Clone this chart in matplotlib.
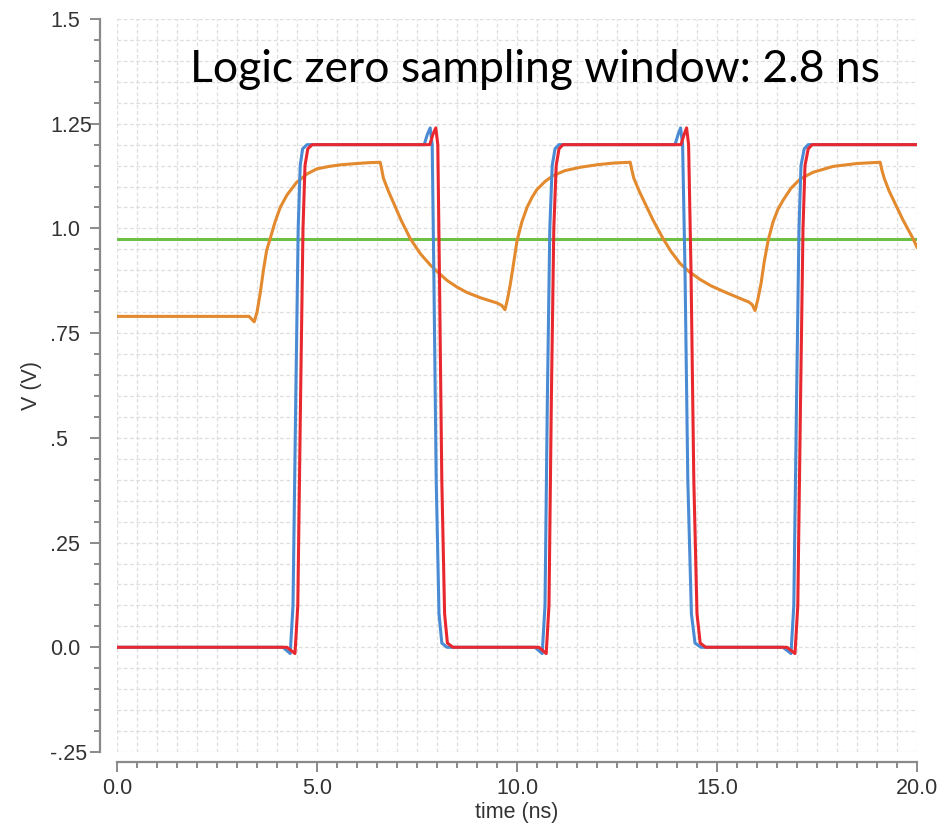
import matplotlib
matplotlib.use("Agg")
import matplotlib.pyplot as plt
from matplotlib.ticker import MultipleLocator, FixedLocator

plt.rcParams['font.family'] = ['Liberation Sans', 'DejaVu Sans']

# blue trace (input)
t_in = [0, 4.15, 4.33, 4.40, 4.47, 4.53, 4.58, 4.64, 4.75,
        7.68, 7.76, 7.83, 7.88, 7.92, 7.98, 8.05, 8.12, 8.25,
        10.45, 10.63, 10.70, 10.76, 10.82, 10.88, 10.95, 11.05,
        13.95, 14.03, 14.09, 14.14, 14.20, 14.27, 14.36, 14.45, 14.60,
        16.65, 16.85, 16.92, 16.99, 17.05, 17.10, 17.18, 17.28, 20.0]
v_in = [0, 0, -0.015, 0.1, 0.6, 1.0, 1.15, 1.19, 1.2,
        1.2, 1.225, 1.24, 1.2, 0.9, 0.4, 0.08, 0.01, 0,
        0, -0.015, 0.1, 0.6, 1.0, 1.15, 1.19, 1.2,
        1.2, 1.225, 1.24, 1.2, 0.9, 0.4, 0.08, 0.01, 0,
        0, -0.015, 0.1, 0.6, 1.0, 1.15, 1.19, 1.2, 1.2]

# red trace (output)
t_out = [0, 4.25, 4.45, 4.52, 4.59, 4.65, 4.70, 4.77, 4.88,
         7.82, 7.90, 7.97, 8.02, 8.06, 8.12, 8.19, 8.26, 8.40,
         10.55, 10.73, 10.80, 10.86, 10.92, 10.98, 11.05, 11.15,
         14.10, 14.18, 14.24, 14.29, 14.35, 14.42, 14.50, 14.58, 14.72,
         16.75, 16.95, 17.02, 17.09, 17.15, 17.20, 17.28, 17.38, 20.0]
v_out = v_in

# orange trace (sampling node)
t_node = [0, 3.30, 3.43,
          3.50, 3.58, 3.66, 3.74, 3.83, 3.95, 4.08, 4.25, 4.49, 4.75, 4.99, 5.3, 5.6, 6.0, 6.3, 6.58,
          6.62, 6.66, 6.78, 6.91, 7.10, 7.33, 7.58, 7.83, 8.05, 8.25, 8.5, 8.75, 9.1, 9.5, 9.62, 9.70,
          9.76, 9.83, 9.92, 10.0, 10.12, 10.25, 10.38, 10.5, 10.7, 10.9, 11.2, 11.58, 12.0, 12.4, 12.83,
          12.87, 12.92, 13.05, 13.2, 13.4, 13.65, 13.85, 14.08, 14.3, 14.58, 14.85, 15.2, 15.5, 15.8, 15.88, 15.95,
          16.02, 16.10, 16.18, 16.28, 16.4, 16.52, 16.65, 16.85, 17.08, 17.4, 17.9, 18.5, 19.08,
          19.12, 19.18, 19.3, 19.45, 19.65, 19.9, 20.0]
v_node = [0.79, 0.79, 0.777,
          0.80, 0.845, 0.90, 0.947, 0.976, 1.015, 1.05, 1.08, 1.11, 1.13, 1.142, 1.148, 1.152, 1.155, 1.157, 1.158,
          1.14, 1.12, 1.09, 1.062, 1.02, 0.976, 0.94, 0.913, 0.893, 0.876, 0.86, 0.847, 0.834, 0.822, 0.816, 0.806,
          0.83, 0.865, 0.92, 0.97, 1.015, 1.05, 1.075, 1.093, 1.112, 1.126, 1.138, 1.146, 1.152, 1.156, 1.158,
          1.14, 1.12, 1.09, 1.06, 1.02, 0.976, 0.945, 0.916, 0.897, 0.878, 0.863, 0.848, 0.836, 0.824, 0.818, 0.804,
          0.83, 0.868, 0.92, 0.972, 1.015, 1.045, 1.067, 1.096, 1.118, 1.134, 1.148, 1.155, 1.158,
          1.14, 1.12, 1.09, 1.06, 1.02, 0.976, 0.955]

v_ref = 0.975

ytick_vals = [-0.25, 0.0, 0.25, 0.5, 0.75, 1.0, 1.25, 1.5]
ytick_labels = ["-.25", "0.0", ".25", ".5", ".75", "1.0", "1.25", "1.5"]
xtick_vals = [0, 5, 10, 15, 20]
xtick_labels = ["0.0", "5.0", "10.0", "15.0", "20.0"]

fig = plt.figure(figsize=(9.52, 8.25), dpi=100)
ax = fig.add_axes([117 / 952, 73 / 825, 800 / 952, 733 / 825])

ax.axhline(v_ref, color="#6dbf45", lw=2.2, zorder=3)
ax.plot(t_node, v_node, color="#e3892e", lw=2.2, zorder=4)
ax.plot(t_in, v_in, color="#4a8bd4", lw=2.2, zorder=5)
ax.plot(t_out, v_out, color="#e8282e", lw=2.2, zorder=6)

ax.set_xlim(0, 20)
ax.set_ylim(-0.25, 1.5)

ax.yaxis.set_major_locator(FixedLocator(ytick_vals))
ax.set_yticklabels(ytick_labels)
ax.yaxis.set_minor_locator(MultipleLocator(0.05))
ax.xaxis.set_major_locator(FixedLocator(xtick_vals))
ax.set_xticklabels(xtick_labels)
ax.xaxis.set_minor_locator(MultipleLocator(0.5))

ax.grid(True, which="both", color="#dedede", lw=0.9, ls=(0, (3, 2)))
ax.set_axisbelow(True)

for s in ["top", "right"]:
    ax.spines[s].set_visible(False)
ax.spines["left"].set_position(("outward", 12))
ax.spines["bottom"].set_position(("outward", 7))
for s in ["left", "bottom"]:
    ax.spines[s].set_color("#8a8a8a")
    ax.spines[s].set_linewidth(1.6)

ax.tick_params(axis="both", which="both", direction="out", color="#8a8a8a", width=1.4)
ax.tick_params(axis="both", which="major", length=7, labelsize=15.5, labelcolor="#333333")
ax.tick_params(axis="both", which="minor", length=4.5)
ax.tick_params(axis="y", which="major", pad=29)
ax.tick_params(axis="x", which="major", pad=5)
for lab in ax.get_yticklabels():
    lab.set_horizontalalignment("left")

ax.set_xlabel("time (ns)", fontsize=15.5, color="#333333")
ax.set_ylabel("V (V)", fontsize=15.5, color="#333333")
ax.xaxis.set_label_coords(0.5, -0.068)
ax.yaxis.set_label_coords(-0.094, 0.5)

fig.text(190 / 952, 1 - 82 / 825, "Logic zero sampling window: 2.8 ns",
         fontsize=32, family=["Lato", "DejaVu Sans"], color="black",
         ha="left", va="baseline")

fig.savefig("out.png", dpi=100)
